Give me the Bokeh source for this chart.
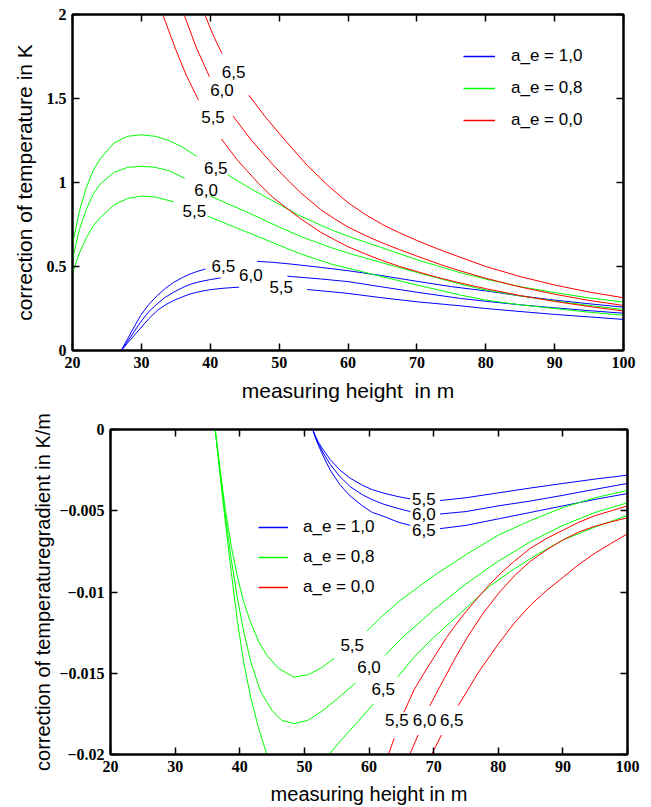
import numpy as np
from bokeh.plotting import figure
from bokeh.models import Range1d, LinearAxis, FixedTicker, CustomJSTickFormatter, Legend, LegendItem
from bokeh.core.properties import value
from bokeh.embed import file_html
from bokeh.resources import INLINE

N = None  # gap in a curve (where the curve label sits)

# ---------------- top chart: correction of temperature (K) ----------------
T_X_TICKS = [20, 30, 40, 50, 60, 70, 80, 90, 100]
T_Y_TICKS = [0, 0.5, 1, 1.5, 2]

# a_e = 1,0 (blue)
TB55_X = [27.07, 28.5, 29.9, 31.1, 32.3, 33.5, 34.7, 36, 37.1, 38.5, 40, 42, 44.2, N, 54.1, 57, 60, 64.7, 70, 76.3, 80, 85, 90, 95, 100]
TB55_Y = [0, 0.068, 0.134, 0.19, 0.238, 0.272, 0.298, 0.32, 0.337, 0.351, 0.362, 0.371, 0.377, N, 0.363, 0.352, 0.34, 0.315, 0.29, 0.266, 0.25, 0.232, 0.215, 0.2, 0.185]
TB60_X = [27.07, 28.5, 29.9, 31.1, 32.3, 33.5, 34.7, 36, 37.1, 38.5, 40, 41.5, N, 51.2, 56, 60, 64.7, 70, 76.3, 80, 85, 90, 95, 100]
TB60_Y = [0, 0.085, 0.17, 0.232, 0.278, 0.318, 0.347, 0.375, 0.394, 0.41, 0.422, 0.432, N, 0.442, 0.426, 0.41, 0.38, 0.347, 0.31, 0.293, 0.272, 0.254, 0.237, 0.222]
TB65_X = [27.07, 28.5, 29.9, 31.1, 32.3, 33.5, 34.7, 36, 37.1, 38.2, 39.3, N, 46.8, 49, 51.6, 56, 60, 64.7, 70, 75, 80, 85, 90, 95, 100]
TB65_Y = [0, 0.107, 0.209, 0.275, 0.327, 0.37, 0.406, 0.435, 0.456, 0.472, 0.485, N, 0.531, 0.525, 0.515, 0.495, 0.475, 0.447, 0.412, 0.38, 0.355, 0.325, 0.3, 0.278, 0.258]

# a_e = 0,8 (green)
TG55_X = [20, 21, 22, 23, 24, 26, 28, 30, 32, 34.7, N, 39.6, 45, 50, 53.1, 57.5, 60, 64.7, 70, 76.3, 80, 85, 90, 95, 100]
TG55_Y = [0.46, 0.58, 0.67, 0.74, 0.79, 0.865, 0.905, 0.919, 0.914, 0.885, N, 0.8, 0.71, 0.627, 0.575, 0.515, 0.49, 0.442, 0.39, 0.33, 0.3, 0.272, 0.25, 0.228, 0.21]
TG60_X = [20, 21, 22, 23, 24, 26, 28, 30, 32, 34, 36.3, N, 40, 45, 50, 53.1, 57.5, 60, 64.7, 70, 76.3, 80, 85, 90, 95, 100]
TG60_Y = [0.54, 0.72, 0.84, 0.93, 0.99, 1.06, 1.09, 1.097, 1.09, 1.07, 1.025, N, 0.919, 0.83, 0.735, 0.679, 0.613, 0.58, 0.525, 0.465, 0.395, 0.36, 0.325, 0.295, 0.268, 0.244]
TG65_X = [20, 21, 22, 23, 24, 26, 28, 30, 32, 34, 36, 38, N, 42.5, 46, 50, 53.1, 57.5, 60, 64.7, 70, 76.3, 80, 85, 90, 95, 100]
TG65_Y = [0.63, 0.83, 0.97, 1.07, 1.14, 1.235, 1.275, 1.284, 1.275, 1.25, 1.21, 1.156, N, 1.047, 0.96, 0.87, 0.8, 0.72, 0.68, 0.615, 0.54, 0.463, 0.425, 0.38, 0.345, 0.313, 0.288]

# a_e = 0,0 (red)
TR55_X = [33.1, 35, 36.5, 38.3, N, 41.6, 44, 47, 49, 51, 53.1, 56, 58, 60, 62.5, 65, 67.5, 70, 73, 76.3, 80, 85, 90, 95, 100]
TR55_Y = [2.0, 1.79, 1.64, 1.49, N, 1.26, 1.13, 0.995, 0.915, 0.85, 0.785, 0.705, 0.66, 0.618, 0.575, 0.535, 0.5, 0.47, 0.435, 0.402, 0.368, 0.327, 0.292, 0.262, 0.235]
TR60_X = [36.2, 38, 39.9, N, 43.3, 46, 49, 51, 53.1, 56, 58, 60, 62.5, 65, 67.5, 70, 73.4, 76.3, 80, 85, 90, 95, 100]
TR60_Y = [2.0, 1.8, 1.629, N, 1.396, 1.25, 1.11, 1.025, 0.94, 0.84, 0.785, 0.735, 0.685, 0.64, 0.6, 0.562, 0.512, 0.474, 0.43, 0.378, 0.335, 0.298, 0.268]
TR65_X = [39.2, 40.5, 41.7, N, 45.6, 48, 51, 54, 57, 60, 62.5, 65, 67.5, 70, 73, 76.3, 80, 85, 90, 95, 100]
TR65_Y = [2.0, 1.87, 1.767, N, 1.52, 1.39, 1.245, 1.105, 0.985, 0.88, 0.81, 0.75, 0.7, 0.655, 0.605, 0.555, 0.5, 0.44, 0.39, 0.348, 0.314]

T_LABEL_X = [43.4, 41.7, 40.4, 40.8, 39.4, 37.7, 41.9, 45.9, 50.3]
T_LABEL_Y = [1.658, 1.55, 1.392, 1.087, 0.955, 0.83, 0.505, 0.45, 0.377]
T_LABEL_T = ["6,5", "6,0", "5,5", "6,5", "6,0", "5,5", "6,5", "6,0", "5,5"]

# ---------------- bottom chart: correction of temperature gradient (K/m) ----------------
B_X_TICKS = [20, 30, 40, 50, 60, 70, 80, 90, 100]
B_Y_TICKS = [-0.02, -0.015, -0.01, -0.005, 0]

BB55_X = [51.3, 51.7, 52.2, 53, 54, 55.5, 57.1, 59, 60.5, 62.3, 64.5, 66.4, N, 71, 75, 80, 85, 90, 95, 100]
BB55_Y = [0, -0.0004, -0.0008, -0.0013, -0.00185, -0.0025, -0.003, -0.00343, -0.0037, -0.00392, -0.00413, -0.00427, N, -0.00437, -0.0042, -0.0039, -0.0036, -0.00332, -0.00305, -0.00281]
BB60_X = [51.3, 51.7, 52.2, 53, 54, 55.5, 57.1, 59, 60.5, 62.3, 64.5, 66.4, N, 71, 75, 80, 85, 90, 95, 100]
BB60_Y = [0, -0.00045, -0.0009, -0.0015, -0.00215, -0.0029, -0.00352, -0.00402, -0.00432, -0.0046, -0.00486, -0.00505, N, -0.0052, -0.00505, -0.0047, -0.0044, -0.00405, -0.00368, -0.00332]
BB65_X = [51.3, 51.7, 52.2, 53, 54, 55.5, 57.1, 59, 60.5, 62.3, 64.5, 66.4, N, 71, 75, 80, 85, 90, 95, 100]
BB65_Y = [0, -0.0005, -0.001, -0.0017, -0.0025, -0.0034, -0.0041, -0.0047, -0.0051, -0.00535, -0.0057, -0.0059, N, -0.0061, -0.0059, -0.0055, -0.0051, -0.0047, -0.0043, -0.00394]

BG55_X = [36.2, 37, 37.8, 38.7, 39.6, 40.6, 41.7, 43, 44.2, 46, 48.4, 50.5, 52.5, 54.6, N, 59.7, 62, 64.9, 70, 75, 80, 85, 90, 95, 100]
BG55_Y = [0, -0.0026, -0.005, -0.0072, -0.009, -0.0106, -0.0119, -0.0131, -0.0139, -0.0147, -0.01524, -0.0151, -0.0147, -0.0141, N, -0.0124, -0.0115, -0.0105, -0.009, -0.0077, -0.0065, -0.0056, -0.0048, -0.0042, -0.00375]
BG60_X = [36.2, 37, 37.8, 38.7, 39.6, 40.6, 41.7, 43.2, 45, 46.5, 48.4, 50.5, 52.5, 55, 57.9, N, 62.5, 64.9, 70, 75, 80, 85, 90, 95, 100]
BG60_Y = [0, -0.0028, -0.0054, -0.008, -0.0103, -0.0124, -0.0143, -0.0161, -0.0173, -0.0179, -0.0181, -0.0179, -0.0174, -0.0166, -0.0156, N, -0.0139, -0.0129, -0.0111, -0.0095, -0.0081, -0.0069, -0.0059, -0.0051, -0.00451]
BG65_X = [36.2, 37, 37.8, 38.7, 39.6, 40.6, 41.7, 43, 44.2, N, 53.8, 55.5, 58, 60.7, N, 64.4, 67, 70, 75, 78.5, 82, 86, 90, 95, 100]
BG65_Y = [0, -0.003, -0.0058, -0.0088, -0.0117, -0.0143, -0.0165, -0.0185, -0.02, N, -0.02, -0.0192, -0.0181, -0.01688, N, -0.01524, -0.014, -0.0128, -0.011, -0.0097, -0.0087, -0.0077, -0.0068, -0.006, -0.00529]

BR55_X = [63.0, 63.9, N, 65.4, 67, 68.5, 70, 72, 74.2, 76.3, 78.5, 80.5, 82.5, 85, 87.5, 90, 92.5, 95, 97.5, 100]
BR55_Y = [-0.02, -0.019, N, -0.0174, -0.016, -0.015, -0.01405, -0.0128, -0.0116, -0.0106, -0.0096, -0.0088, -0.0081, -0.0073, -0.0067, -0.0062, -0.0057, -0.0053, -0.005, -0.0047]
BR60_X = [66.3, 67.6, N, 69.4, 71, 73.3, 75.2, 77.5, 80, 82.5, 85, 87.5, 90, 92.5, 95, 97.5, 100]
BR60_Y = [-0.02, -0.0188, N, -0.017, -0.0158, -0.0141, -0.0128, -0.0114, -0.0101, -0.009, -0.0081, -0.0074, -0.0068, -0.0063, -0.00595, -0.00568, -0.00543]
BR65_X = [69.7, 71.2, N, 73.8, 77, 80, 82.5, 85, 87.5, 90, 92.5, 95, 97.5, 100]
BR65_Y = [-0.02, -0.0188, N, -0.017, -0.0149, -0.0132, -0.0119, -0.0108, -0.0099, -0.0091, -0.0083, -0.0076, -0.007, -0.00642]

B_LABEL_X = [68.5, 68.5, 68.5, 57.4, 60.0, 62.2, 64.3, 68.6, 72.8]
B_LABEL_Y = [-0.00427, -0.00519, -0.00617, -0.01325, -0.01463, -0.01596, -0.0179, -0.0179, -0.0179]
B_LABEL_T = ["5,5", "6,0", "6,5", "5,5", "6,0", "6,5", "5,5", "6,0", "6,5"]

LEGEND_LABELS = ["a_e = 1,0", "a_e = 0,8", "a_e = 0,0"]
BLUE, GREEN, RED = "#0000ff", "#00ff00", "#ff0000"


def arr(v):
    return [float("nan") if a is None else float(a) for a in v]


def style_main_axis(ax, ticks, fmt=None, title_size="20px"):
    ax.ticker = FixedTicker(ticks=ticks, minor_ticks=[])
    ax.major_tick_in = 7
    ax.major_tick_out = 0
    ax.minor_tick_in = 0
    ax.minor_tick_out = 0
    ax.major_tick_line_color = "black"
    ax.major_tick_line_width = 1.5
    ax.axis_line_color = "black"
    ax.axis_line_width = 2
    ax.major_label_text_font = "Liberation Serif"
    ax.major_label_text_font_style = "bold"
    ax.major_label_text_font_size = "16px"
    ax.major_label_text_color = "black"
    ax.major_label_standoff = 6
    ax.axis_label_text_font = "Liberation Sans"
    ax.axis_label_text_font_style = "normal"
    ax.axis_label_text_font_size = title_size
    ax.axis_label_text_color = "black"
    ax.axis_label_standoff = 8
    if fmt is not None:
        ax.formatter = fmt


def mirror_axis(ticks):
    ax = LinearAxis(ticker=FixedTicker(ticks=ticks, minor_ticks=[]),
                    formatter=CustomJSTickFormatter(code="return '';"))
    ax.major_tick_in = 7
    ax.major_tick_out = 0
    ax.minor_tick_in = 0
    ax.minor_tick_out = 0
    ax.major_tick_line_color = "black"
    ax.major_tick_line_width = 1.5
    ax.axis_line_color = "black"
    ax.axis_line_width = 2
    ax.major_label_standoff = 0
    return ax


def make_fig(width, height, xr, yr, borders):
    p = figure(width=width, height=height, x_range=Range1d(*xr), y_range=Range1d(*yr),
               output_backend="svg", toolbar_location=None,
               min_border_left=borders[0], min_border_right=borders[1],
               min_border_top=borders[2], min_border_bottom=borders[3])
    p.xgrid.visible = False
    p.ygrid.visible = False
    p.outline_line_color = "black"
    p.outline_line_width = 2
    p.background_fill_color = "white"
    p.border_fill_color = "white"
    return p


def add_labels(p, xs, ys, ts):
    p.text(x=xs, y=ys, text=ts, text_font=value("Liberation Sans"), text_font_size="17px",
           text_align="center", text_baseline="middle", text_color="black")


def add_legend(p, loc, gw, spacing, standoff):
    items = []
    for lab, col in zip(LEGEND_LABELS, [BLUE, GREEN, RED]):
        # key-only renderer (draws nothing in the plot, only the legend key)
        r = p.segment(x0=[float("nan")], y0=[float("nan")], x1=[float("nan")], y1=[float("nan")],
                      line_color=col, line_width=1.5)
        items.append(LegendItem(label=lab, renderers=[r], index=0))
    p.add_layout(Legend(items=items, location=loc, glyph_width=gw, glyph_height=20,
                        label_height=20, label_standoff=standoff, spacing=spacing,
                        padding=0, margin=0, border_line_color=None,
                        background_fill_alpha=0, label_text_font="Liberation Sans",
                        label_text_font_size="17px", label_text_color="black"))


def draw_group(p, curves, color):
    for xs, ys in curves:
        p.line(arr(xs), arr(ys), line_color=color, line_width=1)


# ---------------- top figure ----------------
p1 = make_fig(638, 404, (20, 100), (0, 2), (72, 15, 14, 52))
style_main_axis(p1.xaxis[0], T_X_TICKS, title_size="21px")
style_main_axis(p1.yaxis[0], T_Y_TICKS, CustomJSTickFormatter(code="return tick.toString();"),
                title_size="21px")
p1.xaxis.axis_label = "measuring height\u00a0 in m"
p1.yaxis.axis_label = "correction of temperature in K"
p1.add_layout(mirror_axis(T_X_TICKS), "above")
p1.add_layout(mirror_axis(T_Y_TICKS), "right")

draw_group(p1, [(TB55_X, TB55_Y), (TB60_X, TB60_Y), (TB65_X, TB65_Y)], BLUE)
draw_group(p1, [(TG55_X, TG55_Y), (TG60_X, TG60_Y), (TG65_X, TG65_Y)], GREEN)
draw_group(p1, [(TR55_X, TR55_Y), (TR60_X, TR60_Y), (TR65_X, TR65_Y)], RED)
add_labels(p1, T_LABEL_X, T_LABEL_Y, T_LABEL_T)
add_legend(p1, (391, 220), 32, 12, 16)

# ---------------- bottom figure ----------------
p2 = make_fig(640, 403, (20, 100), (-0.02, 0), (110, 13, 25, 53))
style_main_axis(p2.xaxis[0], B_X_TICKS)
style_main_axis(p2.yaxis[0], B_Y_TICKS, CustomJSTickFormatter(
    code="return tick == 0 ? '0' : '\\u2212' + Math.abs(tick).toString();"))
p2.yaxis[0].axis_label_standoff = 2
p2.xaxis[0].axis_label_standoff = 8
p2.xaxis.axis_label = "measuring height in m"
p2.yaxis.axis_label = "correction of temperaturegradient in K/m"
p2.add_layout(mirror_axis(B_X_TICKS), "above")
p2.add_layout(mirror_axis(B_Y_TICKS), "right")

draw_group(p2, [(BB55_X, BB55_Y), (BB60_X, BB60_Y), (BB65_X, BB65_Y)], BLUE)
draw_group(p2, [(BG55_X, BG55_Y), (BG60_X, BG60_Y), (BG65_X, BG65_Y)], GREEN)
draw_group(p2, [(BR55_X, BR55_Y), (BR60_X, BR60_Y), (BR65_X, BR65_Y)], RED)
add_labels(p2, B_LABEL_X, B_LABEL_Y, B_LABEL_T)
add_legend(p2, (148, 157), 30, 10, 15)

open("out.html", "w").write(file_html([p1, p2], INLINE))
